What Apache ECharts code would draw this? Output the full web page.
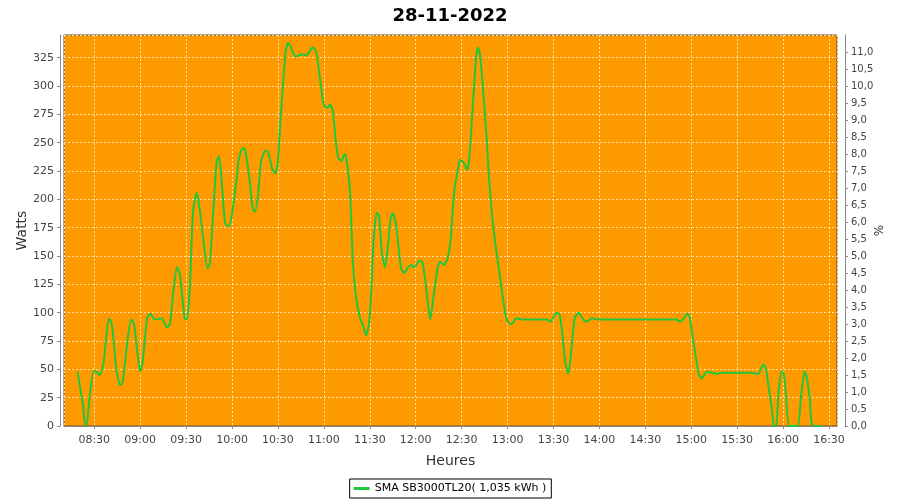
<!DOCTYPE html>
<html>
<head>
<meta charset="utf-8">
<script src="https://cdn.jsdelivr.net/npm/echarts@6/dist/echarts.min.js"></script>
<style>html,body{margin:0;padding:0;background:#fff}#c{width:900px;height:500px}</style>
</head>
<body>
<div id="c"></div>
<script>
const day = '2022-11-28';
const title = '28-11-2022';
const seriesName = 'SMA SB3000TL20( 1,035 kWh )';
const times = [
'08:19:00','08:22:30','08:24:00','08:25:00','08:27:00','08:29:30','08:31:00','08:33:30','08:36:00','08:39:30',
'08:41:30','08:44:30','08:47:00','08:48:30','08:51:00','08:54:00','08:56:00','09:00:00','09:01:30','09:04:30',
'09:06:30','09:09:30','09:14:00','09:17:30','09:19:30','09:21:30','09:24:00','09:26:00','09:29:00','09:30:30',
'09:32:30','09:34:30','09:37:00','09:39:00','09:41:00','09:44:00','09:45:30','09:47:30','09:50:00','09:51:30',
'09:53:00','09:55:30','09:58:00','10:00:00','10:03:00','10:04:30','10:07:00','10:08:30','10:11:30','10:13:30',
'10:15:00','10:17:00','10:19:00','10:22:00','10:23:30','10:26:30','10:28:30','10:30:00','10:31:30','10:33:30',
'10:35:00','10:36:30','10:38:00','10:40:00','10:42:00','10:45:30','10:48:30','10:50:30','10:52:30','10:54:00',
'10:55:30','10:57:00','10:59:30','11:01:00','11:02:30','11:04:00','11:06:00','11:07:30','11:09:30','11:11:30',
'11:13:30','11:14:30','11:17:00','11:19:00','11:21:00','11:23:30','11:26:00','11:27:30','11:29:30','11:31:00',
'11:32:30','11:34:30','11:36:00','11:38:00','11:40:00','11:42:00','11:43:30','11:45:00','11:47:00','11:49:00',
'11:50:30','11:52:30','11:55:00','11:57:00','11:59:00','12:02:30','12:04:30','12:07:00','12:09:30','12:12:00',
'12:14:30','12:16:00','12:18:30','12:21:00','12:23:00','12:25:00','12:27:30','12:29:00','12:31:30','12:33:30',
'12:35:00','12:37:00','12:38:30','12:39:30','12:40:30','12:42:00','12:43:30','12:46:00','12:48:00','12:50:00',
'12:52:00','12:54:30','12:56:30','12:59:00','13:01:30','13:03:30','13:05:30','13:10:00','13:15:00','13:20:00',
'13:25:30','13:28:00','13:30:00','13:32:00','13:34:00','13:35:30','13:37:30','13:39:30','13:41:00','13:42:30',
'13:44:00','13:46:30','13:48:30','13:51:00','13:53:00','13:55:00','14:00:00','14:10:00','14:20:00','14:30:00',
'14:40:00','14:50:00','14:53:00','14:55:00','14:57:30','14:59:00','15:00:30','15:03:00','15:05:00','15:07:00',
'15:08:30','15:10:30','15:13:30','15:17:00','15:19:00','15:25:00','15:30:00','15:35:00','15:40:00','15:42:00',
'15:44:00','15:46:00','15:47:30','15:49:00','15:50:30','15:52:30','15:54:00','15:55:30','15:57:00','15:59:00',
'16:00:30','16:02:00','16:04:00','16:09:30','16:11:30','16:13:00','16:14:00','16:15:30','16:17:30','16:19:00',
'16:24:30'
];
const watts = [
48,20,1,1,26,48,48,45,55,95,
90,49,36,38,67,94,90,48,55,95,
99,94,95,87,90,117,140,134,95,94,
123,189,206,190,167,139,143,184,234,238,
220,179,176,187,218,236,245,244,217,192,
189,204,234,243,242,226,223,234,267,305,
330,338,336,329,326,328,327,330,334,333,
327,311,286,281,281,284,277,255,236,234,
240,238,208,143,114,96,87,80,90,120,
164,188,186,152,140,161,182,188,179,155,
139,135,140,142,140,146,144,120,94,118,
141,145,142,149,167,205,226,235,232,226,
236,276,308,326,334,328,305,261,217,184,
161,137,117,96,90,91,95,94,94,94,
94,92,96,100,98,85,58,46,58,79,
96,100,96,92,93,95,94,94,94,94,
94,94,92,95,99,96,82,61,45,42,
45,48,47,46,47,47,47,47,47,46,
46,52,54,49,35,17,0,0,29,48,
46,26,0,0,23,40,48,43,23,1,
0
];
const leftTicksMax = 345;      // Watts axis top
const rightTicksMax = 11.5;    // % axis top
const xMin = '08:10:14';
const xMax = '16:35:13';

const FONT = 'DejaVu Sans';
const data = times.map((t, i) => [day + ' ' + t, watts[i]]);
const GRID = {color: 'rgba(255,245,220,0.8)', type: [2, 2], width: 1};
const LINE_COLOR = '#1ec83c';

const chart = echarts.init(document.getElementById('c'), null, {renderer: 'canvas'});
chart.setOption({
  backgroundColor: '#ffffff',
  animation: false,
  title: {
    text: title, left: 'center', top: 2,
    textStyle: {fontFamily: FONT, fontSize: 18, fontWeight: 'bold', color: '#000'}
  },
  legend: {
    bottom: 2, left: 'center',
    borderColor: '#000', borderWidth: 1, padding: [4, 5, 4, 4],
    icon: 'rect', itemWidth: 16, itemHeight: 3, itemGap: 4,
    textStyle: {fontFamily: FONT, fontSize: 11, color: '#000'},
    data: [seriesName]
  },
  grid: {
    left: 64, right: 63, top: 35, bottom: 74,
    show: true, backgroundColor: '#ff9900', borderColor: '#6b4a1a', borderWidth: 1,
    containLabel: false
  },
  xAxis: {
    type: 'time',
    min: day + ' ' + xMin, max: day + ' ' + xMax,
    minInterval: 40 * 60 * 1000, maxInterval: 40 * 60 * 1000,
    offset: 4,
    name: 'Heures', nameLocation: 'middle', nameGap: 24,
    nameTextStyle: {fontFamily: FONT, fontSize: 14, color: '#333'},
    axisLine: {show: true, lineStyle: {color: '#888'}},
    axisTick: {show: true, length: 3, lineStyle: {color: '#888'}},
    axisLabel: {
      formatter: '{HH}:{mm}', fontFamily: FONT, fontSize: 11, color: '#444', margin: 5,
      showMinLabel: false, showMaxLabel: false, hideOverlap: false
    },
    splitLine: {show: true, lineStyle: GRID}
  },
  yAxis: [
    {
      type: 'value', min: 0, max: leftTicksMax, interval: 25,
      offset: 4, position: 'left',
      name: 'Watts', nameLocation: 'middle', nameGap: 31, nameMoveOverlap: false,
      nameTextStyle: {fontFamily: FONT, fontSize: 14, color: '#333'},
      axisLine: {show: true, lineStyle: {color: '#888'}},
      axisTick: {show: true, length: 3, lineStyle: {color: '#888'}},
      axisLabel: {fontFamily: FONT, fontSize: 11, color: '#444', margin: 6, showMaxLabel: false},
      splitLine: {show: true, lineStyle: GRID}
    },
    {
      type: 'value', min: 0, max: rightTicksMax, interval: 0.5,
      offset: 8, position: 'right',
      name: '%', nameLocation: 'middle', nameGap: 29, nameRotate: 90, nameMoveOverlap: false,
      nameTextStyle: {fontFamily: FONT, fontSize: 12, color: '#333'},
      axisLine: {show: true, lineStyle: {color: '#888'}},
      axisTick: {show: true, length: 3, lineStyle: {color: '#888'}},
      axisLabel: {
        fontFamily: FONT, fontSize: 10, color: '#444', margin: 6, showMaxLabel: false,
        formatter: v => v.toFixed(1).replace('.', ',')
      },
      splitLine: {show: false}
    }
  ],
  series: [{
    name: seriesName, type: 'line', yAxisIndex: 0,
    data: data, symbol: 'none', smooth: 0.2,
    lineStyle: {color: LINE_COLOR, width: 2},
    itemStyle: {color: LINE_COLOR}
  }]
});
</script>
</body>
</html>
